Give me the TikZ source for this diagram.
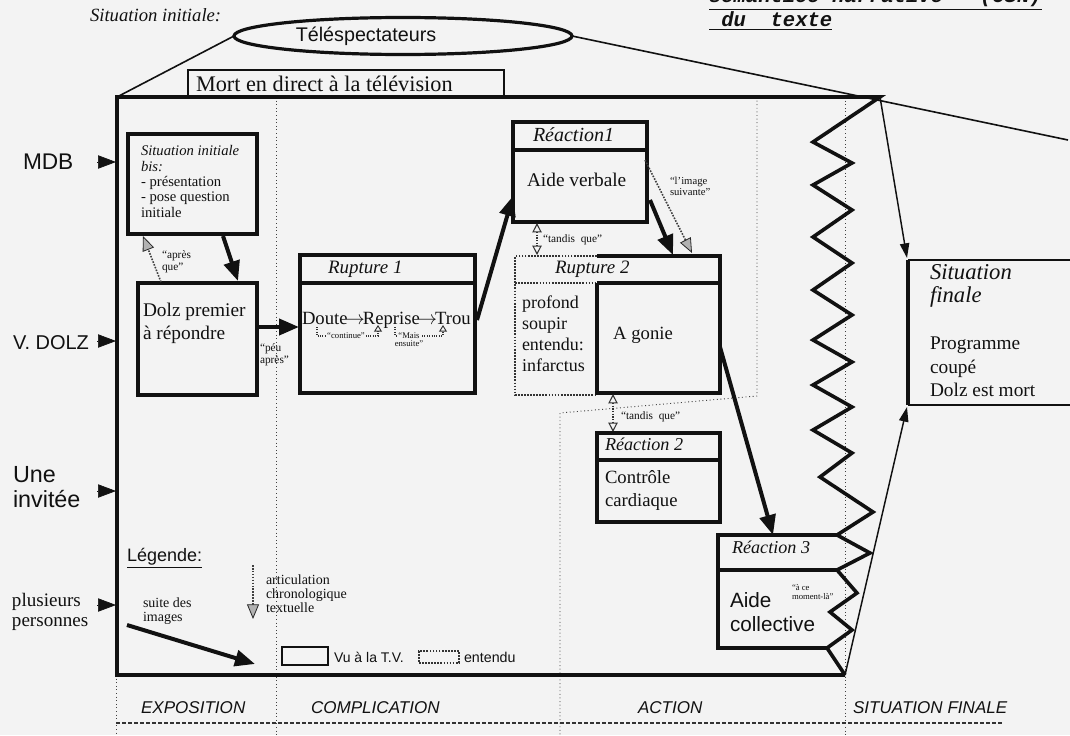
\documentclass[tikz,border=0pt]{standalone}
\usepackage{fontspec}
\setmainfont{Liberation Serif}
\setsansfont{Liberation Sans}
\setmonofont{Liberation Mono}
\usetikzlibrary{arrows.meta,calc,shapes.geometric}
\definecolor{bg}{HTML}{F3F3F3}
\definecolor{ink}{HTML}{111111}
\newcommand{\fsz}[2]{\fontsize{#1}{#2}\selectfont}
\newcommand{\sarr}{\kern-1.5pt$\rightarrow$\kern-1.5pt}
\begin{document}
\begin{tikzpicture}[x=0.75pt,y=-0.75pt,
  every node/.style={inner sep=0pt, outer sep=0pt, text=ink},
  frame/.style={draw=ink, line width=2.7pt, line join=miter},
  tvbox/.style={draw=ink, line width=2.5pt},
  thinbox/.style={draw=ink, line width=1.2pt},
  bigarrow/.style={draw=ink, line width=3pt, -{Triangle[length=15pt,width=12pt]}},
  thinarrow/.style={draw=ink, line width=1.1pt, -{Triangle[length=11pt,width=7pt]}},
  hatcharrow/.style={draw=gray!50!black, line width=1.2pt, densely dotted, -{Triangle[length=11pt,width=9pt,fill=gray!60,color=gray!30!black,line width=0.6pt]}},
  twoway/.style={draw=gray!40!black, line width=1pt, densely dotted, {Triangle[open,length=7pt,width=7pt,line width=0.8pt]}-{Triangle[open,length=7pt,width=7pt,line width=0.8pt]}},
  bracket/.style={draw=gray!40!black, line width=0.8pt, densely dotted, -{Triangle[open,length=5pt,width=6pt,line width=0.7pt]}},
  heardline/.style={draw=gray!40!black, line width=1.3pt, densely dotted},
  sepline/.style={draw=gray!50!black, line width=0.7pt, dotted},
  sideptr/.style={draw=ink, line width=0.5pt, -{Triangle[length=13.5pt,width=10pt]}},
  lbl/.style={font=\fsz{8.5}{8.5}, align=left},
  thinline/.style={draw=ink, line width=1.2pt},
]
\fill[bg] (0,0) rectangle (1070,735);
\useasboundingbox (0,0) rectangle (1070,735);

% ---------- title
\node[anchor=base west, font=\ttfamily\bfseries\itshape\fsz{15.4}{18}] (titA) at (709,3) {\underline{sémantico-narrative\ \ \ (CSN)}};
\node[anchor=base west, font=\ttfamily\bfseries\itshape\fsz{15.4}{18}] (titB) at (709,27) {\underline{\ du\ \ texte}};

% ---------- top
\node[anchor=base west, font=\itshape\fsz{14}{16}] (sitini) at (90,22) {Situation initiale:};
\node[draw=ink, line width=2.4pt, ellipse, minimum width=338*0.75pt, minimum height=37*0.75pt] (tele) at (403,36) {};
\node[font=\sffamily\fsz{14.8}{16}] (teletxt) at (366,36) {Téléspectateurs};
\node[thinbox, anchor=north west, minimum width=316*0.75pt, minimum height=27*0.75pt] (mort) at (188,70) {};
\node[anchor=west, font=\fsz{16.7}{18}] (morttxt) at (196,84) {Mort en direct à la télévision};

% ---------- separators
\coordinate (s1t) at (276,97); \coordinate (s1b) at (276,735);
\coordinate (s2t) at (757,97); \coordinate (s2m) at (757,396); \coordinate (s2n) at (560,413); \coordinate (s2b) at (560,735);
\coordinate (s3t) at (845,97); \coordinate (s3b) at (845,735);
\coordinate (s0t) at (116,675); \coordinate (s0b) at (116,735);
\draw[sepline] (s1t) -- (s1b);
\draw[sepline] (s2t) -- (s2m) -- (s2n) -- (s2b);
\draw[sepline] (s3t) -- (s3b);
\draw[sepline] (s0t) -- (s0b);
\coordinate (hl) at (116,723); \coordinate (hr) at (1002,723);
\draw[draw=gray!40!black, line width=1pt, dash pattern=on 3pt off 1.5pt] (hl) -- (hr);

% ---------- frame
\coordinate (ftl) at (117,97); \coordinate (ftr) at (880,97);
\coordinate (fbr) at (845,675); \coordinate (fbl) at (117,675);
\coordinate (z1) at (837,535); \coordinate (z2) at (870,553); \coordinate (z3) at (837,570);
\coordinate (z6) at (827,648);
\draw[frame] (fbr) -- (fbl) -- (ftl) -- (ftr)
  -- (813,142) -- (852,163) -- (813,185) -- (852,210) -- (813,237) -- (852,263)
  -- (813,290) -- (852,315) -- (813,340) -- (852,362) -- (813,385) -- (852,407)
  -- (813,430) -- (852,453) -- (820,477) -- (873,512) -- (z1) -- (z2) -- (z3)
  -- (857,593) -- (830,612) -- (852,630) -- (z6) -- (fbr);
\coordinate (farright) at (1068,140);
\draw[thinline] (tele.west) -- (ftl);
\draw[thinline] (tele.east) -- (farright);

% ---------- left actors
\node[anchor=west, font=\sffamily\fsz{17}{18}] (mdb) at (23,162) {MDB};
\coordinate (mdbA) at (97,162); \coordinate (mdbB) at (116,162);
\draw[sideptr] (mdbA) -- (mdbB);
\node[anchor=west, font=\sffamily\fsz{15}{18}] (dolz) at (13,343) {V. DOLZ};
\coordinate (dolzA) at (97,341); \coordinate (dolzB) at (116,341);
\draw[sideptr] (dolzA) -- (dolzB);
\node[anchor=north west, font=\sffamily\fsz{17.5}{19}, align=left] (invitee) at (13,466) {Une\\invitée};
\coordinate (invA) at (97,491); \coordinate (invB) at (116,491);
\draw[sideptr] (invA) -- (invB);
\node[anchor=north west, font=\fsz{14.3}{15.5}, align=left] (plus) at (12,593) {plusieurs\\personnes};
\coordinate (plA) at (97,605); \coordinate (plB) at (116,605);
\draw[sideptr] (plA) -- (plB);

% ---------- exposition
\node[tvbox, anchor=north west, minimum width=129*0.75pt, minimum height=100*0.75pt] (sib) at (128,134) {};
\node[anchor=north west, font=\fsz{11}{11.5}, align=left] (sibtxt) at (141,145.5) {\textit{Situation initiale}\\\textit{bis:}\\- présentation\\- pose question\\initiale};
\node[tvbox, anchor=north west, minimum width=119*0.75pt, minimum height=112*0.75pt] (dolzbox) at (138,283) {};
\node[anchor=north west, font=\fsz{14.5}{17.3}, align=left] (dolztxt) at (143,303) {Dolz premier\\à répondre};
\coordinate (a1s) at (223,236); \coordinate (a1e) at (238,281);
\draw[bigarrow] (a1s) -- (a1e);
\coordinate (h1s) at (161,282); \coordinate (h1e) at (143,236);
\draw[hatcharrow] (h1s) -- (h1e);
\node[lbl, anchor=north west] (apres) at (162,251) {“après\\que”};
\coordinate (a2s) at (258,327); \coordinate (a2e) at (299,327);
\draw[bigarrow] (a2s) -- (a2e);
\node[lbl, anchor=north west] (peu) at (260,344) {“péu\\après”};

% ---------- complication
\node[tvbox, anchor=north west, minimum width=175*0.75pt, minimum height=138*0.75pt] (rup1) at (300,255) {};
\coordinate (r1hl) at (300,283); \coordinate (r1hr) at (475,283);
\draw[tvbox] (r1hl) -- (r1hr);
\node[anchor=base west, font=\itshape\fsz{14.2}{16}] (rup1txt) at (328,273) {Rupture 1};
\node[anchor=base west, font=\fsz{14}{16}] (drt) at (302,324) {Doute\sarr Reprise\sarr Trou};
\coordinate (c1) at (317,327); \coordinate (c2) at (317,336); \coordinate (c3) at (378,336); \coordinate (c4) at (378,325);
\draw[bracket] (c1) -- (c2) -- (c3) -- (c4);
\node[fill=bg, inner xsep=1pt, font=\fsz{6.5}{7}] (cont) at (346,336) {“continue”};
\coordinate (m1) at (395,327); \coordinate (m2) at (395,336); \coordinate (m3) at (443,336); \coordinate (m4) at (443,325);
\draw[bracket] (m1) -- (m2) -- (m3) -- (m4);
\node[fill=bg, inner xsep=1pt, font=\fsz{6.5}{7}] (mais) at (409,336) {“Mais};
\node[font=\fsz{6.5}{7}] (ensuite) at (409,344) {ensuite”};

% ---------- action
\coordinate (a3s) at (477,320); \coordinate (a3e) at (513,196);
\draw[bigarrow] (a3s) -- (a3e);
\node[tvbox, anchor=north west, minimum width=134*0.75pt, minimum height=100*0.75pt] (rea1) at (513,122) {};
\coordinate (re1hl) at (513,150); \coordinate (re1hr) at (647,150);
\draw[tvbox] (re1hl) -- (re1hr);
\node[anchor=base west, font=\itshape\fsz{15}{16}] (rea1txt) at (533,141) {Réaction1};
\node[anchor=base west, font=\fsz{14.5}{16}] (aidev) at (527,186) {Aide verbale};
\coordinate (a4s) at (650,200); \coordinate (a4e) at (673,255);
\draw[bigarrow] (a4s) -- (a4e);
\coordinate (h2s) at (645,160); \coordinate (h2e) at (692,253);
\draw[hatcharrow] (h2s) -- (h2e);
\node[lbl, anchor=north west, font=\fsz{8}{8.5}] (image) at (670,177) {“l’image\\suivante”};
\coordinate (t1s) at (537,223); \coordinate (t1e) at (537,255);
\draw[twoway] (t1s) -- (t1e);
\node[lbl, anchor=west] (tandis1) at (543,240) {“tandis\ \ que”};

% Rupture 2 (seen part solid, heard part dotted)
\coordinate (r2a) at (597,256); \coordinate (r2b) at (720,256); \coordinate (r2c) at (720,393);
\coordinate (r2d) at (597,393); \coordinate (r2e) at (597,283); \coordinate (r2f) at (720,283);
\coordinate (r2g) at (515,256); \coordinate (r2h) at (515,395); \coordinate (r2i) at (597,395); \coordinate (r2j) at (515,283);
\draw[heardline] (r2a) -- (r2g) -- (r2h) -- (r2i);
\draw[heardline] (r2j) -- (r2e);
\draw[tvbox] (r2a) -- (r2b) -- (r2c) -- (r2d) -- (r2e);
\draw[tvbox] (r2e) -- (r2f);
\node[anchor=base west, font=\itshape\fsz{14.2}{16}] (rup2txt) at (555,273) {Rupture 2};
\node[anchor=north west, font=\fsz{13.5}{15.8}, align=left] (soupir) at (522,296) {profond\\soupir\\entendu:\\infarctus};
\node[font=\fsz{14}{16}] (agonie) at (643,335) {A gonie};

\coordinate (t2s) at (613,394); \coordinate (t2e) at (613,432);
\draw[twoway] (t2s) -- (t2e);
\node[lbl, anchor=west] (tandis2) at (621,417) {“tandis\ \ que”};

\node[tvbox, anchor=north west, minimum width=123*0.75pt, minimum height=89*0.75pt] (rea2) at (597,433) {};
\coordinate (re2hl) at (597,460); \coordinate (re2hr) at (720,460);
\draw[tvbox] (re2hl) -- (re2hr);
\node[anchor=base west, font=\itshape\fsz{13.6}{16}] (rea2txt) at (605,450) {Réaction 2};
\node[anchor=north west, font=\fsz{14}{17.2}, align=left] (controle) at (605,471) {Contrôle\\cardiaque};

\coordinate (a5s) at (720,347); \coordinate (a5e) at (773,535);
\draw[bigarrow] (a5s) -- (a5e);

% Réaction 3 (right side is part of the zigzag)
\coordinate (r3a) at (718,535); \coordinate (r3b) at (718,648); \coordinate (r3c) at (718,570);
\draw[tvbox] (z1) -- (r3a) -- (r3b) -- (z6);
\draw[tvbox] (r3c) -- (z3);
\node[anchor=base west, font=\itshape\fsz{13.6}{16}] (rea3txt) at (732,553) {Réaction 3};
\node[anchor=north west, font=\sffamily\fsz{15.5}{18}, align=left] (aidec) at (730,593) {Aide\\collective};
\node[anchor=north west, font=\fsz{6.5}{7}, align=left] (moment) at (792,584) {“à ce\\moment-là”};

% ---------- situation finale
\coordinate (sfa) at (1075,260); \coordinate (sfb) at (908,260); \coordinate (sfc) at (908,405); \coordinate (sfd) at (1075,405);
\draw[ink, line width=1.8pt] (sfa) -- (sfb);
\draw[ink, line width=1.8pt] (sfc) -- (sfd);
\draw[ink, line width=2.8pt] (sfb) -- (sfc);
\node[anchor=north west, font=\itshape\fsz{17}{17.3}, align=left] (sitfin) at (930,264) {Situation\\finale};
\node[anchor=north west, font=\fsz{14.5}{17.6}, align=left] (prog) at (930,337) {Programme\\coupé\\Dolz est mort};
\coordinate (sfin1) at (907,258); \coordinate (sfin2) at (907,407);
\draw[thinarrow] (ftr) -- (sfin1);
\draw[thinarrow] (fbr) -- (sfin2);

% ---------- legend
\node[anchor=west, font=\sffamily\fsz{13.5}{15}] (leg) at (127,558) {\underline{Légende:}};
\node[anchor=north west, font=\fsz{10.5}{10.5}, align=left] (suite) at (143,598) {suite des\\images};
\coordinate (l1s) at (127,625); \coordinate (l1e) at (255,664);
\draw[bigarrow] (l1s) -- (l1e);
\coordinate (l2s) at (253,565); \coordinate (l2e) at (253,619);
\draw[hatcharrow] (l2s) -- (l2e);
\node[anchor=north west, font=\fsz{10.5}{10.5}, align=left] (artic) at (266,575) {articulation\\chronologique\\textuelle};
\node[tvbox, line width=2.2pt, anchor=north west, minimum width=46*0.75pt, minimum height=18*0.75pt] (legtv) at (282,647) {};
\node[anchor=west, font=\sffamily\fsz{10.5}{12}] (vu) at (334,657) {Vu à la T.V.};
\node[heardline, line width=1pt, anchor=north west, minimum width=40*0.75pt, minimum height=12*0.75pt] (legent) at (419,651) {};
\node[anchor=west, font=\sffamily\fsz{10.7}{12}] (entendu) at (464,657) {entendu};

% ---------- bottom strip
\node[anchor=west, font=\sffamily\itshape\fsz{12.8}{14}] (expo) at (141,708) {EXPOSITION};
\node[anchor=west, font=\sffamily\itshape\fsz{12.8}{14}] (compl) at (311,708) {COMPLICATION};
\node[anchor=west, font=\sffamily\itshape\fsz{12.8}{14}] (action) at (638,708) {ACTION};
\node[anchor=west, font=\sffamily\itshape\fsz{12.8}{14}] (sitf) at (853,708) {SITUATION FINALE};
\end{tikzpicture}
\end{document}
